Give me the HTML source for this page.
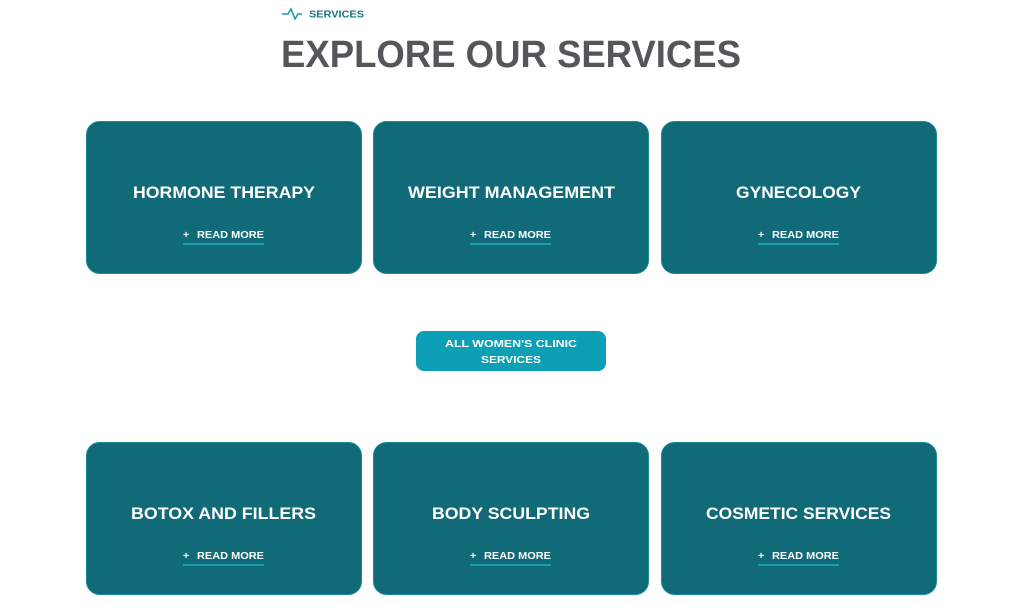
<!DOCTYPE html>
<html><head><meta charset="utf-8"><style>
html,body{margin:0;padding:0;background:#fff;width:1024px;height:615px;overflow:hidden}
svg{display:block}
text{font-family:"Liberation Sans",Arial,sans-serif;font-weight:bold}
</style></head><body>
<svg width="1024" height="615" viewBox="0 0 1024 615" xmlns="http://www.w3.org/2000/svg">
<rect width="1024" height="615" fill="#fff"/>
<polyline points="282,14 288,14 291,9 295,19 298,14 302,14" fill="none" stroke="#1f9aa8" stroke-width="1.6"/>
<text x="309" y="17.5" font-size="10.5" fill="#1b7686" textLength="55" lengthAdjust="spacingAndGlyphs">SERVICES</text>
<text x="281" y="67" font-size="38" fill="#55555a" textLength="460" lengthAdjust="spacingAndGlyphs">EXPLORE OUR SERVICES</text>
<g fill="#106a78" stroke="#1a8a98" stroke-width="1">
<rect x="86.5" y="121.5" width="275" height="152" rx="13"/>
<rect x="373.5" y="121.5" width="275" height="152" rx="13"/>
<rect x="661.5" y="121.5" width="275" height="152" rx="13"/>
<rect x="86.5" y="442.5" width="275" height="152" rx="13"/>
<rect x="373.5" y="442.5" width="275" height="152" rx="13"/>
<rect x="661.5" y="442.5" width="275" height="152" rx="13"/>
</g>
<g fill="#fff" font-size="17">
<text x="133" y="198" textLength="182" lengthAdjust="spacingAndGlyphs">HORMONE THERAPY</text>
<text x="408" y="198" textLength="207" lengthAdjust="spacingAndGlyphs">WEIGHT MANAGEMENT</text>
<text x="736" y="198" textLength="125" lengthAdjust="spacingAndGlyphs">GYNECOLOGY</text>
<text x="131" y="519" textLength="185" lengthAdjust="spacingAndGlyphs">BOTOX AND FILLERS</text>
<text x="432" y="519" textLength="158" lengthAdjust="spacingAndGlyphs">BODY SCULPTING</text>
<text x="706" y="519" textLength="185" lengthAdjust="spacingAndGlyphs">COSMETIC SERVICES</text>
</g>
<g fill="#fff" font-size="10.5">
<text x="183" y="238">+</text><text x="197" y="238" textLength="67" lengthAdjust="spacingAndGlyphs">READ MORE</text>
<text x="470" y="238">+</text><text x="484" y="238" textLength="67" lengthAdjust="spacingAndGlyphs">READ MORE</text>
<text x="758" y="238">+</text><text x="772" y="238" textLength="67" lengthAdjust="spacingAndGlyphs">READ MORE</text>
<text x="183" y="559">+</text><text x="197" y="559" textLength="67" lengthAdjust="spacingAndGlyphs">READ MORE</text>
<text x="470" y="559">+</text><text x="484" y="559" textLength="67" lengthAdjust="spacingAndGlyphs">READ MORE</text>
<text x="758" y="559">+</text><text x="772" y="559" textLength="67" lengthAdjust="spacingAndGlyphs">READ MORE</text>
</g>
<g fill="#1a9cb2">
<rect x="183" y="243" width="81" height="2"/>
<rect x="470" y="243" width="81" height="2"/>
<rect x="758" y="243" width="81" height="2"/>
<rect x="183" y="564" width="81" height="2"/>
<rect x="470" y="564" width="81" height="2"/>
<rect x="758" y="564" width="81" height="2"/>
</g>
<rect x="416" y="331" width="190" height="40" rx="8" fill="#0d9fb6"/>
<text x="445" y="347" font-size="10.5" fill="#fff" textLength="132" lengthAdjust="spacingAndGlyphs">ALL WOMEN'S CLINIC</text>
<text x="481" y="363" font-size="10.5" fill="#fff" textLength="60" lengthAdjust="spacingAndGlyphs">SERVICES</text>
</svg>
</body></html>
